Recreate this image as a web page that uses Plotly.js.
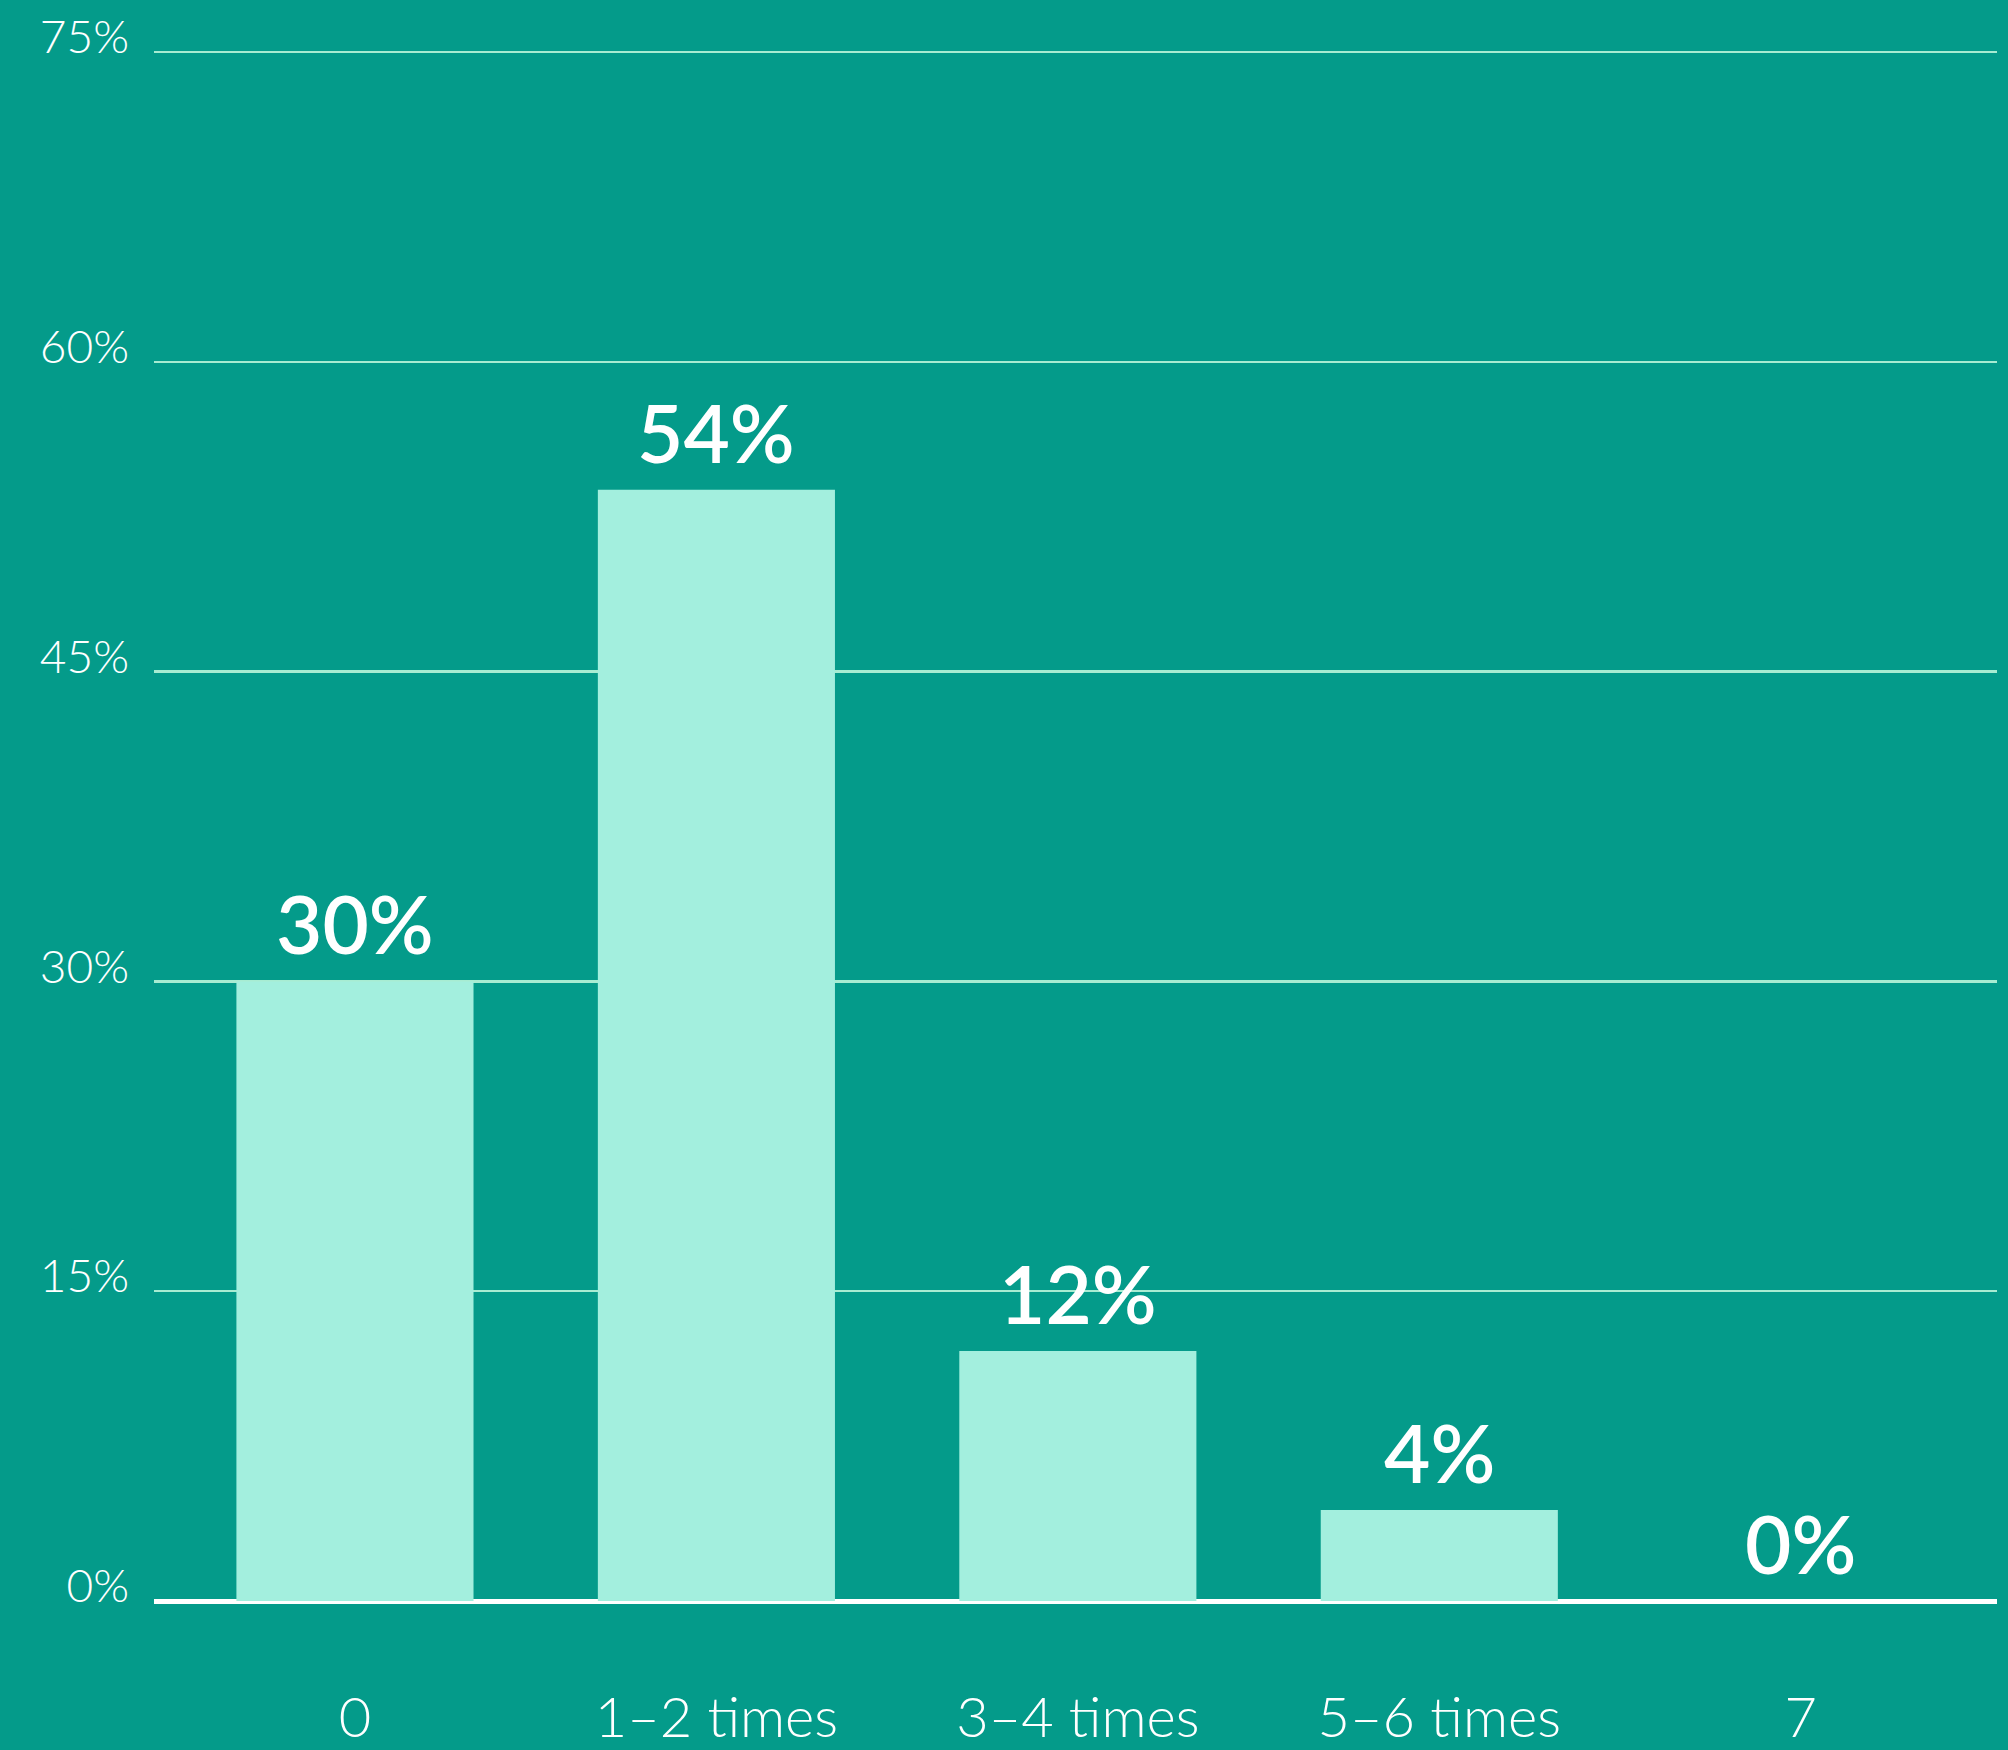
<!DOCTYPE html>
<html>
<head>
<meta charset="utf-8">
<script src="https://cdn.plot.ly/plotly-3.0.1.min.js"></script>
<style>html,body{margin:0;padding:0;background:#049b8a;}#chart{width:2008px;height:1750px;}</style>
</head>
<body>
<div id="chart"></div>
<script>
const categories = ["0", "1–2 times", "3–4 times", "5–6 times", "7"];
const values = [30, 53.8, 12.1, 4.4, 0];
const valueLabels = ["30%", "54%", "12%", "4%", "0%"];
const yTickValues = [0, 15, 30, 45, 60, 75];
const yTickLabels = ["0%", "15%", "30%", "45%", "60%", "75%"];

const bg = "#049b8a";
const barColor = "#a3efde";

const trace = {
  type: "bar",
  x: categories,
  y: values,
  marker: {color: barColor, line: {width: 0}},
  hoverinfo: "skip"
};

const annotations = categories.map((c, i) => ({
  x: i, y: values[i], xref: "x", yref: "y",
  text: valueLabels[i], showarrow: false,
  yanchor: "bottom", xanchor: "center", yshift: 8,
  font: {family: "Lato, 'Open Sans', sans-serif", size: 80, color: "#ffffff", weight: 600}
}));

const layout = {
  width: 2008, height: 1750,
  paper_bgcolor: bg, plot_bgcolor: bg,
  margin: {l: 154, r: 11, t: 46, b: 149},
  showlegend: false,
  bargap: 0.344,
  xaxis: {
    type: "category",
    range: [-0.556, 4.543],
    showgrid: false, zeroline: false, showline: false,
    ticks: "",
    ticklabelstandoff: 79,
    tickfont: {family: "Lato, 'Open Sans', sans-serif", size: 56, color: "#ffffff", weight: 300}
  },
  yaxis: {
    range: [0, 75.29],
    tickvals: yTickValues, ticktext: yTickLabels,
    showgrid: true, gridcolor: "#a8ecd2", gridwidth: 2.5,
    zeroline: true, zerolinecolor: "#ffffff", zerolinewidth: 5,
    showline: false, ticks: "",
    ticklabelstandoff: 24,
    ticklabelshift: -15,
    tickfont: {family: "Lato, 'Open Sans', sans-serif", size: 46, color: "#ffffff", weight: 300}
  },
  annotations: annotations
};

Plotly.newPlot("chart", [trace], layout, {displayModeBar: false, staticPlot: true});
</script>
</body>
</html>
